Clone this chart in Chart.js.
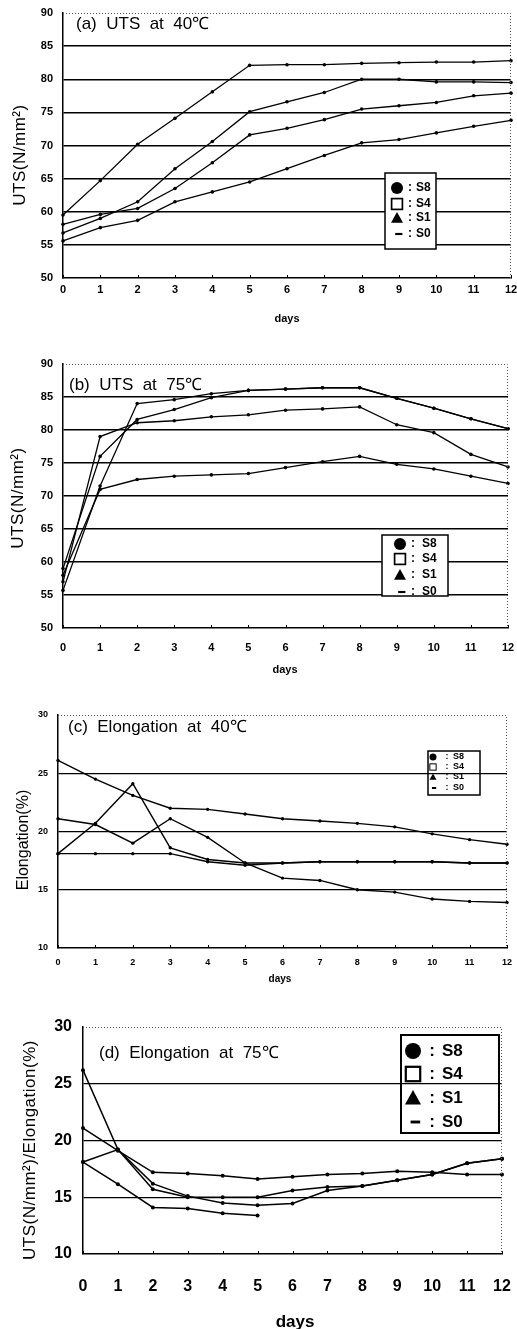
<!DOCTYPE html>
<html><head><meta charset="utf-8">
<script src="https://cdn.jsdelivr.net/npm/chart.js@4/dist/chart.umd.min.js"></script>
<style>
html,body{margin:0;padding:0;background:#fff;}
#wrap{position:relative;width:517px;height:1329px;overflow:hidden;background:#fff;}
canvas{position:absolute;left:0;}
</style></head><body><div id="wrap">
<canvas id="ca" width="517" height="328" style="top:0px"></canvas>
<canvas id="cb" width="517" height="352" style="top:328px"></canvas>
<canvas id="cc" width="517" height="312" style="top:680px"></canvas>
<canvas id="cd" width="517" height="337" style="top:992px"></canvas>
</div>
<script>
// ---- data ----
const days = ['0','1','2','3','4','5','6','7','8','9','10','11','12'];
const seriesNames = ['S8','S4','S1','S0'];

// (a) UTS at 40 C
const utsA1 = [59.5, 64.7, 70.2, 74.1, 78.1, 82.1, 82.2, 82.2, 82.4, 82.5, 82.6, 82.6, 82.8];
const utsA2 = [56.8, 59.0, 61.5, 66.5, 70.6, 75.1, 76.6, 78.0, 80.0, 80.0, 79.6, 79.6, 79.5];
const utsA3 = [58.1, 59.6, 60.5, 63.5, 67.4, 71.6, 72.6, 73.9, 75.5, 76.0, 76.5, 77.5, 77.9];
const utsA4 = [55.6, 57.6, 58.7, 61.5, 63.0, 64.5, 66.5, 68.5, 70.4, 70.9, 71.9, 72.9, 73.8];

// (b) UTS at 75 C
const utsB1 = [57.0, 79.0, 81.1, 81.4, 82.0, 82.3, 83.0, 83.2, 83.5, 80.8, 79.6, 76.3, 74.4];
const utsB2 = [59.0, 76.0, 81.6, 83.1, 84.9, 86.0, 86.2, 86.4, 86.4, 84.8, 83.3, 81.7, 80.2];
const utsB3 = [55.7, 71.5, 84.0, 84.6, 85.5, 86.0, 86.2, 86.4, 86.4, 84.8, 83.3, 81.7, 80.2];
const utsB4 = [58.0, 71.0, 72.5, 73.0, 73.2, 73.4, 74.3, 75.2, 76.0, 74.8, 74.1, 73.0, 71.9];

// (c) Elongation at 40 C
const elC1 = [26.1, 24.5, 23.1, 22.0, 21.9, 21.5, 21.1, 20.9, 20.7, 20.4, 19.8, 19.3, 18.9];
const elC2 = [18.1, 20.7, 24.1, 18.6, 17.6, 17.3, 17.3, 17.4, 17.4, 17.4, 17.4, 17.3, 17.3];
const elC3 = [21.1, 20.6, 19.0, 21.1, 19.5, 17.3, 16.0, 15.8, 15.0, 14.8, 14.2, 14.0, 13.9];
const elC4 = [18.1, 18.1, 18.1, 18.1, 17.4, 17.1, 17.3, 17.4, 17.4, 17.4, 17.4, 17.3, 17.3];

// (d) Elongation at 75 C
const elD1 = [26.2, 19.2, 16.2, 15.1, 14.5, 14.3, 14.45, 15.6, 16.0, 16.5, 17.0, 18.0, 18.4];
const elD2 = [21.1, 19.1, 17.2, 17.1, 16.9, 16.6, 16.8, 17.0, 17.1, 17.3, 17.2, 17.0, 17.0];
const elD3 = [18.1, 19.2, 15.7, 15.0, 15.0, 15.0, 15.6, 15.9, 16.0, 16.5, 17.0, 18.0, 18.4];
const elD4 = [18.1, 16.15, 14.1, 14.0, 13.6, 13.4, null, null, null, null, null, null, null];

const utsTicks = [50, 55, 60, 65, 70, 75, 80, 85, 90];
const elTicks = [10, 15, 20, 25, 30];
const utsGrid = [55, 60, 65, 70, 75, 80, 85];
const elGrid = [15, 20, 25];

// ---- drawing helpers ----
function drawSymbol(ctx, kind, x, y, s) {
  ctx.fillStyle = '#000'; ctx.strokeStyle = '#000';
  if (kind === 0) { ctx.beginPath(); ctx.arc(x, y, s, 0, Math.PI * 2); ctx.fill(); }
  else if (kind === 1) { ctx.lineWidth = Math.max(1, s * 0.28); const h = s * 0.9; ctx.strokeRect(x - h, y - h, 2 * h, 2 * h); }
  else if (kind === 2) { ctx.beginPath(); ctx.moveTo(x, y - s); ctx.lineTo(x + s, y + s * 0.8); ctx.lineTo(x - s, y + s * 0.8); ctx.closePath(); ctx.fill(); }
  else { ctx.fillRect(x - s * 0.3, y - Math.max(1, s * 0.18), s * 1.2, Math.max(2, s * 0.36)); }
}

function makePanel(id, top, P) {
  const extras = {
    id: 'extras_' + id,
    afterDraw(chart) {
      const ctx = chart.ctx, ca = chart.chartArea, xs = chart.scales.x;
      ctx.save();
      // dotted top and right frame
      ctx.setLineDash([1, 2]); ctx.strokeStyle = '#555'; ctx.lineWidth = 1;
      ctx.beginPath(); ctx.moveTo(ca.left, ca.top + 0.5); ctx.lineTo(ca.right - 0.5, ca.top + 0.5); ctx.lineTo(ca.right - 0.5, ca.bottom); ctx.stroke();
      ctx.setLineDash([]);
      // inner tick marks on x axis
      ctx.strokeStyle = '#000'; ctx.lineWidth = 1;
      for (let i = 0; i < days.length; i++) {
        const px = Math.round(xs.getPixelForValue(i)) + 0.5;
        ctx.beginPath(); ctx.moveTo(px, ca.bottom); ctx.lineTo(px, ca.bottom - P.tickIn); ctx.stroke();
      }
      ctx.fillStyle = '#000';
      // panel title
      ctx.font = P.titleFont; ctx.textAlign = 'left'; ctx.textBaseline = 'middle';
      ctx.fillText(P.title, P.titlePos[0], P.titlePos[1] - top);
      // x title
      ctx.font = P.daysFont; ctx.textAlign = 'center';
      ctx.fillText('days', P.daysPos[0], P.daysPos[1] - top);
      // y title
      ctx.save();
      ctx.translate(P.yTitlePos[0], P.yTitlePos[1] - top); ctx.rotate(-Math.PI / 2);
      ctx.font = P.yTitleFont; ctx.textAlign = 'center'; ctx.textBaseline = 'middle';
      if (P.yTitleSpacing) ctx.letterSpacing = P.yTitleSpacing;
      ctx.fillText(P.yTitle, 0, 0);
      ctx.restore();
      // legend box
      const L = P.legend, ly = L.y - top;
      ctx.save();
      if (L.fill) { ctx.fillStyle = '#fff'; ctx.fillRect(L.x, ly, L.w, L.h); }
      ctx.beginPath(); ctx.rect(L.x, ly, L.w, L.h); ctx.clip();
      for (let i = 0; i < 4; i++) {
        const ry = L.rows[i] - top;
        drawSymbol(ctx, i, L.symX, ry, L.s);
        ctx.fillStyle = '#000'; ctx.font = L.font; ctx.textBaseline = 'middle';
        ctx.textAlign = 'center'; ctx.fillText(':', L.colonX, ry);
        ctx.textAlign = 'left'; ctx.fillText(seriesNames[i], L.textX, ry);
      }
      ctx.restore();
      ctx.strokeStyle = '#000'; ctx.lineWidth = L.lw;
      ctx.strokeRect(L.x, ly, L.w, L.h);
      ctx.restore();
    }
  };
  const tickFont = { family: P.fontFamily, weight: 'bold', size: P.tickSize };
  return new Chart(document.getElementById(id), {
    type: 'line',
    data: {
      labels: days,
      datasets: P.series.map((d, i) => ({
        label: seriesNames[i], data: d, borderColor: '#000', backgroundColor: '#000',
        borderWidth: P.lw, pointRadius: P.pr, pointBackgroundColor: '#000', pointBorderWidth: 0,
        tension: 0, fill: false, spanGaps: false
      }))
    },
    options: {
      responsive: false, animation: false, devicePixelRatio: 1,
      layout: { padding: 0 },
      plugins: { legend: { display: false }, tooltip: { enabled: false } },
      scales: {
        x: {
          type: 'category',
          grid: { display: false, drawTicks: false, tickLength: 0 },
          border: { display: true, color: '#000', width: P.axisW },
          ticks: { font: tickFont, color: '#000', padding: P.xPad, maxRotation: 0, autoSkip: false },
          afterFit: s => { s.height = P.h - (P.plot.b - top); s.paddingLeft = 0; s.paddingRight = 517 - P.plot.r; }
        },
        y: {
          min: P.ticks[0], max: P.ticks[P.ticks.length - 1],
          afterBuildTicks: s => { s.ticks = P.ticks.map(v => ({ value: v })); },
          grid: {
            color: c => (c.tick && P.grid.includes(c.tick.value)) ? '#000' : 'rgba(0,0,0,0)',
            lineWidth: P.gridW, drawTicks: false, tickLength: 0
          },
          border: { display: true, color: '#000', width: P.axisW },
          ticks: { font: tickFont, color: '#000', padding: P.yPad, stepSize: 5 },
          afterFit: s => { s.width = P.plot.l; s.paddingTop = P.plot.t - top; s.paddingBottom = 0; }
        }
      }
    },
    plugins: [extras]
  });
}

const FF = "'Liberation Sans', Arial, sans-serif";

makePanel('ca', 0, {
  h: 328, plot: { l: 63, r: 511, t: 13, b: 278 },
  ticks: utsTicks, grid: utsGrid, series: [utsA1, utsA2, utsA3, utsA4],
  fontFamily: FF, tickSize: 11, xPad: 5, yPad: 10, lw: 1.3, pr: 1.8, gridW: 1.5, axisW: 1.5, tickIn: 3,
  title: '(a)  UTS  at  40\u2103', titleFont: "17px " + FF, titlePos: [76, 24],
  yTitle: 'UTS(N/mm\u00B2)', yTitleFont: "17px " + FF, yTitlePos: [20, 155], yTitleSpacing: '0.5px',
  daysFont: "bold 11px " + FF, daysPos: [287, 319],
  legend: { x: 385, y: 173, w: 51, h: 76, fill: true, lw: 1.5, rows: [188, 204, 218, 234], symX: 397, colonX: 410, textX: 416, font: "bold 12px " + FF, s: 6 }
});

makePanel('cb', 328, {
  h: 352, plot: { l: 63, r: 508, t: 364, b: 628 },
  ticks: utsTicks, grid: utsGrid, series: [utsB1, utsB2, utsB3, utsB4],
  fontFamily: FF, tickSize: 11, xPad: 13, yPad: 10, lw: 1.3, pr: 1.8, gridW: 1.5, axisW: 1.5, tickIn: 3,
  title: '(b)  UTS  at  75\u2103', titleFont: "17px " + FF, titlePos: [69, 385],
  yTitle: 'UTS(N/mm\u00B2)', yTitleFont: "17px " + FF, yTitlePos: [18, 498], yTitleSpacing: '0.5px',
  daysFont: "bold 11px " + FF, daysPos: [285, 670],
  legend: { x: 382, y: 535, w: 66, h: 61, fill: true, lw: 1.5, rows: [544, 559, 575, 592], symX: 400, colonX: 413, textX: 422, font: "bold 12px " + FF, s: 6 }
});

makePanel('cc', 680, {
  h: 312, plot: { l: 58, r: 507, t: 715, b: 948 },
  ticks: elTicks, grid: elGrid, series: [elC1, elC2, elC3, elC4],
  fontFamily: FF, tickSize: 9, xPad: 9, yPad: 10, lw: 1.4, pr: 1.7, gridW: 1.3, axisW: 1.5, tickIn: 3,
  title: '(c)  Elongation  at  40\u2103', titleFont: "17px " + FF, titlePos: [68, 727],
  yTitle: 'Elongation(%)', yTitleFont: "16px " + FF, yTitlePos: [24, 840],
  daysFont: "bold 10px " + FF, daysPos: [280, 979],
  legend: { x: 428, y: 751, w: 52, h: 44, fill: false, lw: 1.5, rows: [757, 767, 777, 788], symX: 433, colonX: 447, textX: 453, font: "bold 9px " + FF, s: 3.5 }
});

makePanel('cd', 992, {
  h: 337, plot: { l: 83, r: 502, t: 1027, b: 1254 },
  ticks: elTicks, grid: elGrid, series: [elD1, elD2, elD3, elD4],
  fontFamily: FF, tickSize: 16, xPad: 23, yPad: 11, lw: 1.5, pr: 2, gridW: 1.3, axisW: 1.5, tickIn: 3,
  title: '(d)  Elongation  at  75\u2103', titleFont: "17px " + FF, titlePos: [99, 1053],
  yTitle: 'UTS(N/mm\u00B2)/Elongation(%)', yTitleFont: "17px " + FF, yTitlePos: [30, 1150], yTitleSpacing: '0.5px',
  daysFont: "bold 17px " + FF, daysPos: [295, 1322],
  legend: { x: 401, y: 1035, w: 98, h: 98, fill: false, lw: 2, rows: [1051, 1074, 1098, 1122], symX: 413, colonX: 432, textX: 442, font: "bold 17px " + FF, s: 8 }
});
</script>
</body></html>
